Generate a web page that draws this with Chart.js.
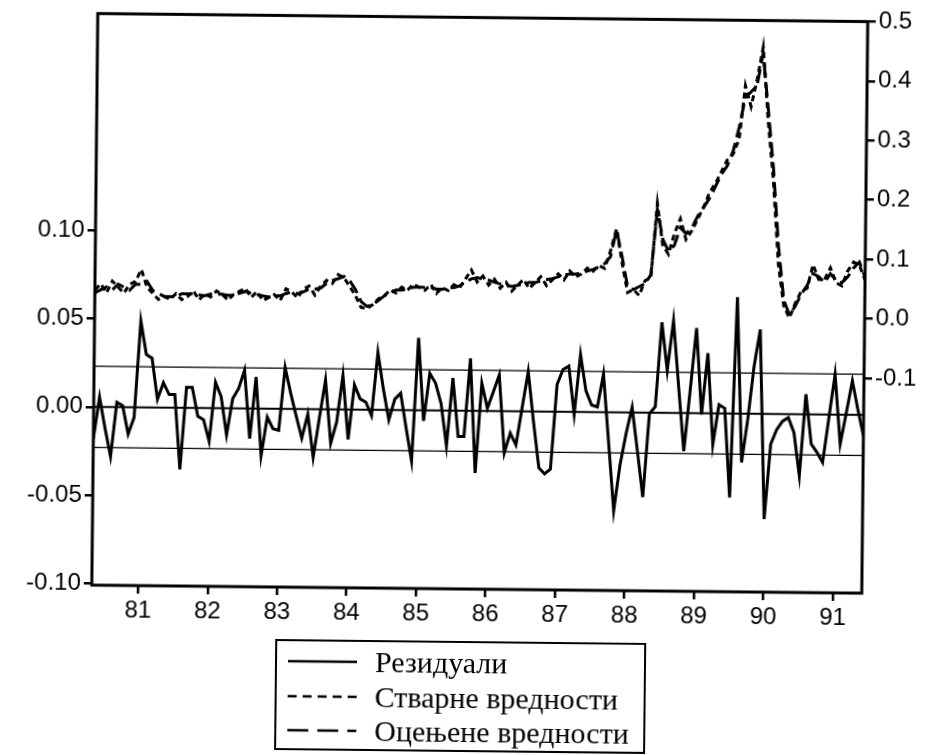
<!DOCTYPE html>
<html>
<head>
<meta charset="utf-8">
<script src="https://cdn.jsdelivr.net/npm/chart.js@4/dist/chart.umd.min.js"></script>
<style>
html,body{margin:0;padding:0;background:#fff;}
#wrap{position:relative;width:929px;height:755px;transform:rotate(0.6deg);transform-origin:464.5px 377.5px;}
#grafico{position:absolute;left:0;top:0;}
#legenda{position:absolute;left:278px;top:641px;width:371px;height:111px;border:2px solid #000;box-sizing:border-box;
  font-family:"Liberation Serif","Times New Roman",serif;font-size:30px;color:#000;}
#legenda .red{position:absolute;left:11px;height:34px;display:flex;align-items:center;white-space:nowrap;}
#legenda svg{margin-right:18px;}
</style>
</head>
<body>
<div id="wrap">
  <canvas id="grafico" width="929" height="755"></canvas>
  <div id="legenda"></div>
</div>
<script>
// monthly data, first observation 1980M05
const startYear = 1980, startMonth = 5;

const residuals = [
  -0.018, 0.0056, -0.012, -0.028, 0.0028, 0.0009, -0.0151, -0.0057, 0.049, 0.030,
  0.028, 0.0047, 0.0141, 0.0075, 0.0075, -0.0348, 0.0117, 0.0117, -0.0047, -0.0066,
  -0.0188, 0.0147, 0.0066, -0.0151, 0.0056, 0.0113, 0.0217, -0.017, 0.0179, -0.0267,
  -0.0047, -0.0113, -0.0122, 0.0235, 0.009, -0.004, -0.0164, -0.0028, -0.0273, -0.005,
  0.0166, -0.0192, -0.007, 0.0194, -0.0168, 0.0141, 0.0062, 0.0043, -0.0032, 0.0326,
  0.012, -0.0055, 0.0062, 0.0096, -0.010, -0.0287, 0.041, -0.006, 0.021, 0.0156,
  0.004, -0.020, 0.0185, -0.0145, -0.0145, 0.0297, -0.0352, 0.0157, 0.0016, 0.011,
  0.0205, -0.0236, -0.0123, -0.019, 0.002, 0.0227, -0.006, -0.0318, -0.0352, -0.0325,
  0.0155, 0.024, 0.026, -0.0013, 0.0326, 0.012, 0.004, 0.003, 0.0216, -0.017,
  -0.0556, -0.030, -0.012, 0.003, -0.022, -0.0478, -0.0006, 0.0035, 0.0513, 0.024,
  0.0524, 0.015, -0.0215, 0.013, 0.0483, -0.0007, 0.0341, -0.0176, 0.005, 0.003,
  -0.0475, 0.066, -0.0276, -0.003, 0.027, 0.0478, -0.0595, -0.0171, -0.0088, -0.004,
  -0.0019, -0.0104, -0.0348, 0.0114, -0.0168, -0.0214, -0.0271, -0.002, 0.0229, -0.0166,
  0.001, 0.0193, 0.003, -0.0117
];

const actual = [
  0.035, 0.045, 0.030, 0.050, 0.040, 0.030, 0.045, 0.050, 0.070, 0.040,
  0.030, 0.020, 0.025, 0.020, 0.030, 0.020, 0.025, 0.035, 0.020, 0.030,
  0.025, 0.035, 0.030, 0.020, 0.030, 0.035, 0.040, 0.025, 0.035, 0.020,
  0.025, 0.030, 0.020, 0.040, 0.035, 0.025, 0.040, 0.045, 0.030, 0.045,
  0.055, 0.050, 0.065, 0.060, 0.045, 0.030, 0.010, 0.008, 0.015, 0.025,
  0.030, 0.040, 0.035, 0.045, 0.040, 0.050, 0.045, 0.040, 0.050, 0.035,
  0.045, 0.040, 0.050, 0.045, 0.060, 0.075, 0.055, 0.065, 0.050, 0.060,
  0.045, 0.055, 0.040, 0.050, 0.060, 0.045, 0.055, 0.065, 0.050, 0.060,
  0.070, 0.060, 0.075, 0.065, 0.070, 0.080, 0.075, 0.085, 0.080, 0.110,
  0.147, 0.090, 0.040, 0.045, 0.035, 0.060, 0.065, 0.190, 0.120, 0.105,
  0.140, 0.165, 0.130, 0.145, 0.165, 0.185, 0.210, 0.225, 0.245, 0.265,
  0.275, 0.300, 0.390, 0.355, 0.400, 0.455, 0.330, 0.230, 0.090, 0.020,
  0.000, 0.025, 0.045, 0.050, 0.090, 0.065, 0.065, 0.085, 0.060, 0.055,
  0.080, 0.095, 0.090, 0.065
];

const fitted = [
  0.030, 0.035, 0.040, 0.035, 0.045, 0.040, 0.035, 0.045, 0.045, 0.050,
  0.035, 0.030, 0.025, 0.025, 0.025, 0.030, 0.030, 0.030, 0.028, 0.027,
  0.030, 0.030, 0.030, 0.028, 0.028, 0.032, 0.035, 0.032, 0.030, 0.028,
  0.026, 0.028, 0.028, 0.032, 0.035, 0.032, 0.035, 0.040, 0.040, 0.042,
  0.050, 0.055, 0.058, 0.062, 0.055, 0.040, 0.020, 0.012, 0.015, 0.022,
  0.030, 0.035, 0.040, 0.040, 0.042, 0.045, 0.045, 0.045, 0.045, 0.042,
  0.042, 0.045, 0.045, 0.048, 0.055, 0.060, 0.062, 0.060, 0.058, 0.055,
  0.052, 0.050, 0.048, 0.050, 0.052, 0.055, 0.055, 0.058, 0.060, 0.062,
  0.065, 0.068, 0.070, 0.070, 0.072, 0.075, 0.078, 0.082, 0.088, 0.100,
  0.145, 0.100, 0.050, 0.045, 0.050, 0.055, 0.070, 0.180, 0.130, 0.110,
  0.120, 0.150, 0.140, 0.150, 0.170, 0.185, 0.200, 0.220, 0.240, 0.255,
  0.280, 0.320, 0.370, 0.380, 0.390, 0.445, 0.350, 0.250, 0.120, 0.030,
  0.005, 0.020, 0.040, 0.055, 0.075, 0.070, 0.060, 0.075, 0.065, 0.060,
  0.070, 0.085, 0.095, 0.070
];

const seBand = 0.023;   // +/- band around zero residual
const yearTicks = [1981, 1982, 1983, 1984, 1985, 1986, 1987, 1988, 1989, 1990, 1991];
const leftTicks = [-0.10, -0.05, 0.00, 0.05, 0.10];
const rightTicks = [-0.1, 0.0, 0.1, 0.2, 0.3, 0.4, 0.5];
const names = ['Резидуали', 'Стварне вредности', 'Оцењене вредности'];

const t = residuals.map((_, i) => startYear + (startMonth - 1 + i) / 12);
const tMin = t[0], tMax = t[t.length - 1];
const pts = arr => arr.map((v, i) => ({x: t[i], y: v}));
const hline = v => [{x: tMin, y: v}, {x: tMax, y: v}];

const font = {family: 'Liberation Sans, Arial, sans-serif', size: 24};
const axisGrid = {drawOnChartArea: false, tickLength: 8, lineWidth: 2.5, color: '#000'};

const frame = {
  id: 'frame',
  afterDatasetsDraw(chart){
    const {ctx, chartArea: a} = chart;
    ctx.save();
    ctx.strokeStyle = '#000';
    ctx.lineWidth = 3;
    ctx.strokeRect(a.left, a.top, a.right - a.left, a.bottom - a.top);
    ctx.restore();
  }
};

const series = [
  {label: names[0], data: pts(residuals), yAxisID: 'y', borderDash: []},
  {label: names[1], data: pts(actual), yAxisID: 'y2', borderDash: [6, 4]},
  {label: names[2], data: pts(fitted), yAxisID: 'y2', borderDash: [14, 6]}
].map(d => ({...d, borderColor: '#000', borderWidth: 3, pointRadius: 0, tension: 0, fill: false}));

const refLines = [
  {data: hline(0), borderWidth: 2},
  {data: hline(seBand), borderWidth: 1.3},
  {data: hline(-seBand), borderWidth: 1.3}
].map(d => ({...d, yAxisID: 'y', borderColor: '#000', pointRadius: 0, fill: false}));

const chart = new Chart(grafico, {
  type: 'line',
  data: {datasets: [...series, ...refLines]},
  options: {
    responsive: false,
    animation: false,
    devicePixelRatio: 1,
    layout: {padding: {top: 17, bottom: 126, left: 0, right: 0}},
    plugins: {legend: {display: false}, tooltip: {enabled: false}},
    scales: {
      x: {
        type: 'linear', min: tMin, max: tMax,
        afterBuildTicks: s => { s.ticks = yearTicks.map(v => ({value: v})); },
        afterFit: s => { s.height = 40; },
        grid: axisGrid, border: {display: false},
        ticks: {color: '#000', font, padding: 3, maxRotation: 0, autoSkip: false,
                callback: v => String(v).slice(2)}
      },
      y: {
        position: 'left', min: -0.1009, max: 0.2228,
        afterBuildTicks: s => { s.ticks = leftTicks.map(v => ({value: v})); },
        afterFit: s => { s.width = 94; },
        grid: axisGrid, border: {display: false},
        ticks: {color: '#000', font, padding: 3, callback: v => v.toFixed(2)}
      },
      y2: {
        position: 'right', min: -0.462, max: 0.5,
        afterBuildTicks: s => { s.ticks = rightTicks.map(v => ({value: v})); },
        afterFit: s => { s.width = 65; },
        grid: axisGrid, border: {display: false},
        ticks: {color: '#000', font, padding: 3, callback: v => v.toFixed(1)}
      }
    }
  },
  plugins: [frame]
});

// legend box below the chart
const rowsY = [22, 57, 91];
legenda.innerHTML = series.map((d, i) =>
  `<div class="red" style="top:${rowsY[i] - 19}px">` +
  `<svg width="69" height="6"><line x1="0" y1="3" x2="69" y2="3" stroke="#000" stroke-width="2.5" stroke-dasharray="${d.borderDash.map(v => v * 1.5).join(' ')}"/></svg>` +
  `<span>${d.label}</span></div>`
).join('');
</script>
</body>
</html>
